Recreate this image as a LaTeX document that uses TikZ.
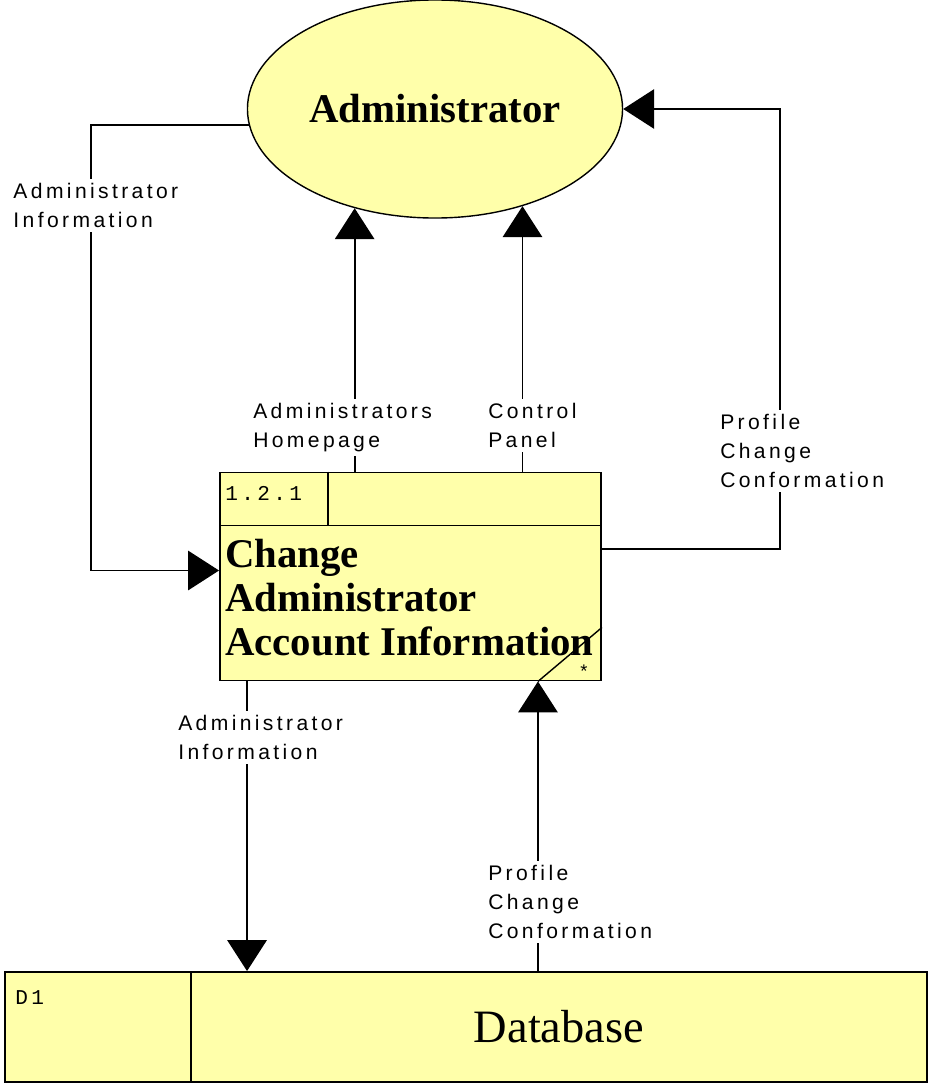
\documentclass[tikz,border=0pt]{standalone}
\usepackage{fontspec}
\setmainfont{Liberation Serif}
\newfontfamily\flowfont[LetterSpace=16]{Liberation Sans}
\newfontfamily\idfont[LetterSpace=16]{Liberation Mono}
\usetikzlibrary{positioning,calc,shapes.geometric,arrows.meta}
\definecolor{DFDYellow}{RGB}{255,255,170}

\begin{document}
\begin{tikzpicture}[x=0.025cm, y=-0.025cm,
		entity/.style={ellipse, draw, fill=DFDYellow, line width=1pt, minimum width=9.375cm, minimum height=5.45cm, font=\bfseries\fontsize{29}{32}\selectfont},
		procbox/.style={draw, fill=DFDYellow, line width=1.3pt, minimum width=9.525cm, minimum height=5.2cm, inner sep=0pt},
		storebox/.style={draw, fill=DFDYellow, line width=1.3pt, minimum width=23.05cm, minimum height=2.75cm, inner sep=0pt},
		flow/.style={line width=1.3pt, -{Triangle[length=22pt,width=28pt]}},
		lbl/.style={font=\flowfont\fontsize{15}{20.6}\selectfont, align=left, fill=white, inner sep=3pt, anchor=north west},
		idtxt/.style={font=\idfont\fontsize{15}{18}\selectfont, inner sep=0pt, anchor=base west}
		]
		\useasboundingbox[fill=white] (0,0) rectangle (930,1084);
		
		% ===== external entity =====
		\node[entity] (Admin) at (435,109) {Administrator};
		
		% ===== process 1.2.1 =====
		\node[procbox] (Proc) at (410.5,576.5) {};
		\draw[line width=1.3pt] ($(Proc.north west)+(0,54)$) -- ($(Proc.north east)+(0,54)$);
		\draw[line width=1.3pt] ($(Proc.north west)+(109,0)$) -- ($(Proc.north west)+(109,54)$);
		\node[idtxt] (PID) at (225,500) {1.2.1};
		\node[font=\bfseries\fontsize{29}{31.3}\selectfont, align=left, inner sep=0pt, anchor=north west] (PName) at (225,539) {Change\\Administrator\\Account Information};
		\coordinate (slash) at ($(Proc.south east)+(-64,0)$);
		\draw[line width=1pt] (slash) -- ($(Proc.south east)+(0,-54)$);
		\node[font=\flowfont\fontsize{13}{13}\selectfont, inner sep=0pt, anchor=north] (mark) at (584,665) {*};
		
		% ===== data store D1 =====
		\node[storebox] (DB) at (466,1027) {};
		\draw[line width=1.3pt] ($(DB.north west)+(187,0)$) -- ($(DB.south west)+(187,0)$);
		\node[idtxt] (DID) at (15,1004) {D1};
		\node[font=\fontsize{33}{36}\selectfont, inner sep=0pt] (DName) at (559,1027) {Database};
		
		% ===== data flows =====
		\draw[flow] (Admin.185) -| ($(Proc.west)+(-128,-6)$) -- ($(Proc.west)+(0,-6)$);
		\draw[flow] (Proc.north -| Admin.231) -- (Admin.231);
		\draw[flow] (Proc.north -| Admin.312) -- (Admin.312);
		\draw[flow] ($(Proc.east)+(0,-27.5)$) -| ($(Admin.east)+(157,0)$) -- (Admin.east);
		\coordinate (outA) at ($(Proc.south west)+(28,0)$);
		\draw[flow] (outA) -- (outA |- DB.north);
		\draw[flow] (slash |- DB.north) -- (slash);
		
		% ===== flow labels =====
		\node[lbl] (lInfoUp) at (9,178.5) {Administrator\\Information};
		\node[lbl] (lHome) at (248.8,398.5) {Administrators\\Homepage};
		\node[lbl] (lPanel) at (483.8,398.5) {Control\\Panel};
		\node[lbl] (lConfUp) at (715.8,409.5) {Profile\\Change\\Conformation};
		\node[lbl] (lInfoDown) at (173.8,710.5) {Administrator\\Information};
		\node[lbl] (lConfDown) at (483.8,860.5) {Profile\\Change\\Conformation};
		
\end{tikzpicture}
\end{document}
